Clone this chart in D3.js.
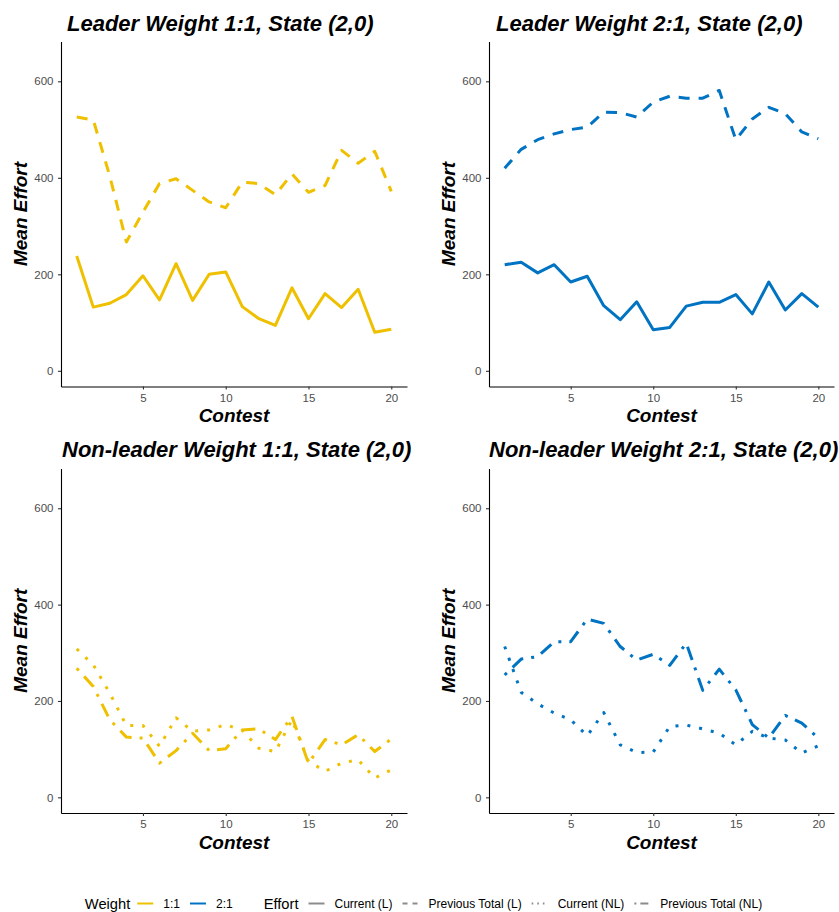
<!DOCTYPE html>
<html>
<head>
<meta charset="utf-8">
<script src="https://cdn.jsdelivr.net/npm/d3@7"></script>
<style>
  html, body { margin: 0; padding: 0; background: #ffffff; }
  svg { display: block; font-family: "Liberation Sans", Arial, sans-serif; }
</style>
</head>
<body>
<svg id="chart" width="839" height="912"></svg>
<script>
// Contest index shared by every series
const contests = [1, 2, 3, 4, 5, 6, 7, 8, 9, 10, 11, 12, 13, 14, 15, 16, 17, 18, 19, 20];

// Leader, weight 1:1
const leader11Current   = [238, 132, 140, 158, 197, 147, 222, 146, 200, 205, 133, 108, 94, 172, 108, 160, 131, 169, 80, 86];
const leader11PrevTotal = [526, 520, 403, 267, 329, 388, 398, 374, 350, 338, 391, 388, 365, 408, 370, 384, 457, 430, 455, 372];

// Leader, weight 2:1
const leader21Current   = [220, 225, 203, 220, 184, 196, 135, 106, 143, 85, 90, 134, 142, 142, 158, 118, 184, 126, 160, 132];
const leader21PrevTotal = [420, 459, 479, 491, 500, 505, 536, 535, 526, 557, 569, 565, 565, 581, 479, 522, 546, 533, 495, 481];

// Non-leader, weight 1:1
const nonLeader11Current   = [308, 275, 216, 149, 149, 106, 165, 137, 140, 151, 139, 102, 95, 161, 75, 54, 71, 78, 40, 57];
const nonLeader11PrevTotal = [268, 230, 161, 125, 123, 71, 97, 133, 97, 101, 140, 142, 120, 168, 71, 120, 109, 130, 95, 121];

// Non-leader, weight 2:1
const nonLeader21Current   = [313, 218, 194, 175, 161, 128, 176, 109, 93, 94, 147, 150, 142, 133, 109, 137, 123, 119, 92, 107];
const nonLeader21PrevTotal = [254, 287, 292, 323, 323, 370, 361, 313, 285, 297, 274, 320, 222, 266, 223, 151, 123, 170, 154, 123];

// Axis ticks
const xTicks = [5, 10, 15, 20];
const yTicks = [0, 200, 400, 600];

// Legend entries
const weightLevels = ["1:1", "2:1"];
const effortLevels = ["Current (L)", "Previous Total (L)", "Current (NL)", "Previous Total (NL)"];

const weightColor = d3.scaleOrdinal().domain(weightLevels).range(["#EFC000", "#0073C2"]);
const effortDash = d3.scaleOrdinal().domain(effortLevels).range([null, "11,9", "3,9", "3,8,14,8"]);
const keyDash = d3.scaleOrdinal().domain(effortLevels).range([null, "5,5", "1.6,4", "2,4,8,4"]);

const panels = [
  { title: "Leader Weight 1:1, State (2,0)", col: 0, row: 0, titleX: 67, weight: "1:1",
    series: [{ effort: "Current (L)", values: leader11Current }, { effort: "Previous Total (L)", values: leader11PrevTotal }] },
  { title: "Leader Weight 2:1, State (2,0)", col: 1, row: 0, titleX: 496, weight: "2:1",
    series: [{ effort: "Current (L)", values: leader21Current }, { effort: "Previous Total (L)", values: leader21PrevTotal }] },
  { title: "Non-leader Weight 1:1, State (2,0)", col: 0, row: 1, titleX: 62, weight: "1:1",
    series: [{ effort: "Current (NL)", values: nonLeader11Current }, { effort: "Previous Total (NL)", values: nonLeader11PrevTotal }] },
  { title: "Non-leader Weight 2:1, State (2,0)", col: 1, row: 1, titleX: 489, weight: "2:1",
    series: [{ effort: "Current (NL)", values: nonLeader21Current }, { effort: "Previous Total (NL)", values: nonLeader21PrevTotal }] }
];

const colRanges = [[61, 407], [489, 834]];
const rowRanges = [[386.5, 41.5], [813, 468.5]];
const titleBase = [31, 457];

const svg = d3.select("#chart");

panels.forEach(p => {
  const x = d3.scaleLinear().domain([0.05, 20.95]).range(colRanges[p.col]);
  const y = d3.scaleLinear().domain([-32.5, 682.5]).range(rowRanges[p.row]);
  const g = svg.append("g");

  // data lines
  const line = d3.line().x((d, i) => x(contests[i])).y(d => y(d));
  p.series.forEach(s => {
    g.append("path")
      .datum(s.values)
      .attr("d", line)
      .attr("fill", "none")
      .attr("stroke", weightColor(p.weight))
      .attr("stroke-width", 3)
      .attr("stroke-linejoin", "round")
      .attr("stroke-linecap", "butt")
      .attr("stroke-dasharray", effortDash(s.effort));
  });

  // axes
  const xAxis = g.append("g")
    .attr("transform", `translate(0,${y.range()[0]})`)
    .call(d3.axisBottom(x).tickValues(xTicks).tickSize(3).tickSizeOuter(0).tickPadding(4));
  const yAxis = g.append("g")
    .attr("transform", `translate(${x.range()[0]},0)`)
    .call(d3.axisLeft(y).tickValues(yTicks).tickSize(3).tickSizeOuter(0).tickPadding(4.5));
  [xAxis, yAxis].forEach(a => {
    a.select(".domain").attr("stroke", "#000").attr("stroke-width", 1.1);
    a.selectAll(".tick line").attr("stroke", "#333").attr("stroke-width", 1.1);
    a.selectAll(".tick text").attr("fill", "#4D4D4D").style("font-size", "11.5px")
      .style("font-family", '"Liberation Sans", Arial, sans-serif');
  });

  // titles
  g.append("text")
    .attr("x", p.titleX).attr("y", titleBase[p.row])
    .style("font-size", "22px").style("font-weight", "bold").style("font-style", "italic")
    .text(p.title);

  const [x0, x1] = x.range();
  const [yb, yt] = y.range();
  g.append("text")
    .attr("x", (x0 + x1) / 2).attr("y", yb + 35.5)
    .attr("text-anchor", "middle")
    .style("font-size", "19px").style("font-weight", "bold").style("font-style", "italic")
    .text("Contest");
  g.append("text")
    .attr("transform", `translate(${x0 - 34},${(yb + yt) / 2}) rotate(-90)`)
    .attr("text-anchor", "middle")
    .style("font-size", "19px").style("font-weight", "bold").style("font-style", "italic")
    .text("Mean Effort");
});

// legend (two groups laid out in one row and centred)
const legend = svg.append("g");
const keyY = 903.5;
let cx = 0;
function addTitle(t, gapAfter) {
  const el = legend.append("text").attr("x", cx).attr("y", 909).style("font-size", "14.7px").text(t);
  cx += el.node().getComputedTextLength() + gapAfter;
}
function addKey(color, dash) {
  legend.append("line").attr("x1", cx).attr("x2", cx + 16).attr("y1", keyY).attr("y2", keyY)
    .attr("stroke", color).attr("stroke-width", 2).attr("stroke-dasharray", dash);
  cx += 16 + 10;
}
function addLabel(t, gapAfter) {
  const el = legend.append("text").attr("x", cx).attr("y", 908).style("font-size", "12px").text(t);
  cx += el.node().getComputedTextLength() + gapAfter;
}
addTitle("Weight", 7);
weightLevels.forEach((w, i) => { addKey(weightColor(w), null); addLabel(w, i < weightLevels.length - 1 ? 10 : 31); });
addTitle("Effort", 10);
effortLevels.forEach((e, i) => { addKey("#8c8c8c", keyDash(e)); addLabel(e, i < effortLevels.length - 1 ? 10 : 0); });
const total = cx;
legend.attr("transform", `translate(${423.5 - total / 2},0)`);
</script>
</body>
</html>
